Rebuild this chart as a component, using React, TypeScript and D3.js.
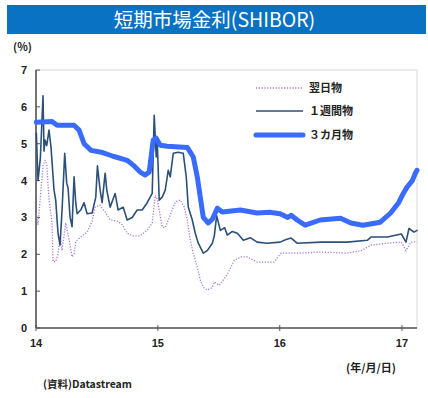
import React from "react";
import * as d3 from "d3";

// SHIBOR rates (%), sampled at turning points
const overnightDates = ["2014-01-02","2014-01-07","2014-01-22","2014-01-28","2014-02-02","2014-02-09","2014-02-18","2014-02-21","2014-03-01","2014-03-08","2014-03-14","2014-03-20","2014-03-31","2014-04-10","2014-04-19","2014-04-25","2014-04-30","2014-05-15","2014-06-03","2014-06-18","2014-06-27","2014-07-12","2014-07-27","2014-08-11","2014-09-01","2014-09-16","2014-10-01","2014-10-19","2014-11-09","2014-11-30","2014-12-15","2014-12-24","2014-12-30","2015-01-05","2015-01-14","2015-01-23","2015-02-01","2015-02-13","2015-02-22","2015-03-09","2015-03-21","2015-03-30","2015-04-08","2015-04-17","2015-04-29","2015-05-08","2015-05-17","2015-05-29","2015-06-13","2015-06-19","2015-07-04","2015-07-28","2015-08-18","2015-09-08","2015-09-25","2015-10-25","2015-12-15","2016-01-05","2016-02-22","2016-05-04","2016-07-21","2016-09-01","2016-10-01","2016-11-18","2016-12-30","2017-01-13","2017-01-28","2017-02-15"];
const overnightValues = [3.1,2.8,4.4,4.55,4.45,3.5,2.85,1.8,1.8,2.0,2.47,2.1,2.85,2.4,1.93,2.0,2.35,2.47,2.6,2.9,3.28,3.33,3.15,2.93,2.9,2.8,2.57,2.5,2.5,2.65,2.85,3.6,3.5,3.2,2.74,2.72,2.93,3.2,3.42,3.47,3.28,2.93,2.38,2.03,1.65,1.3,1.1,1.03,1.1,1.25,1.16,1.45,1.84,1.93,1.93,1.79,1.79,2.03,2.03,2.06,2.03,2.1,2.25,2.3,2.33,2.1,2.33,2.33];

const weekDates = ["2014-01-02","2014-01-07","2014-01-14","2014-01-22","2014-01-25","2014-01-28","2014-02-02","2014-02-09","2014-02-15","2014-02-24","2014-03-01","2014-03-08","2014-03-14","2014-03-20","2014-03-28","2014-04-03","2014-04-07","2014-04-13","2014-04-19","2014-04-25","2014-04-30","2014-05-04","2014-05-15","2014-05-25","2014-06-03","2014-06-18","2014-06-29","2014-07-04","2014-07-12","2014-07-18","2014-07-27","2014-08-01","2014-08-11","2014-08-26","2014-09-04","2014-09-19","2014-10-01","2014-10-16","2014-10-31","2014-11-15","2014-11-30","2014-12-15","2014-12-21","2014-12-27","2014-12-30","2015-01-05","2015-01-14","2015-01-23","2015-02-01","2015-02-07","2015-02-16","2015-03-03","2015-03-18","2015-03-27","2015-04-02","2015-04-14","2015-04-23","2015-05-02","2015-05-17","2015-05-29","2015-06-13","2015-06-19","2015-06-26","2015-07-07","2015-07-20","2015-07-28","2015-08-12","2015-08-27","2015-09-14","2015-10-05","2015-10-25","2015-11-24","2016-01-02","2016-01-20","2016-02-04","2016-02-22","2016-05-04","2016-07-21","2016-09-19","2016-10-01","2016-11-18","2016-12-30","2017-01-13","2017-01-22","2017-02-06","2017-02-15"];
const weekValues = [5.28,4.0,4.6,6.3,4.8,5.1,4.95,5.37,4.9,3.74,3.47,2.57,2.25,3.2,4.74,3.93,3.8,3.0,2.75,4.1,3.4,3.1,3.2,3.4,3.1,3.12,3.55,4.4,3.74,3.4,4.2,3.74,3.28,3.65,3.2,3.28,2.93,3.0,3.2,3.2,3.4,3.65,5.77,4.64,5.1,3.47,3.55,3.74,4.28,4.1,4.74,4.77,4.74,4.1,3.28,2.93,2.57,2.3,2.03,2.1,2.3,2.5,3.05,2.65,2.72,2.52,2.62,2.57,2.38,2.45,2.33,2.3,2.33,2.4,2.44,2.3,2.33,2.33,2.38,2.47,2.47,2.55,2.33,2.7,2.6,2.65];

const threeMonthDates = ["2014-01-02","2014-02-18","2014-03-05","2014-04-25","2014-05-10","2014-05-25","2014-06-15","2014-07-15","2014-08-20","2014-10-01","2014-10-19","2014-11-09","2014-11-24","2014-12-06","2014-12-18","2014-12-27","2015-01-08","2015-01-29","2015-03-30","2015-04-17","2015-04-29","2015-05-08","2015-05-17","2015-06-01","2015-06-13","2015-06-28","2015-07-13","2015-09-05","2015-10-25","2015-12-01","2016-01-02","2016-01-25","2016-02-04","2016-02-22","2016-03-17","2016-05-01","2016-07-01","2016-08-01","2016-09-06","2016-10-28","2016-11-28","2016-12-22","2017-01-05","2017-01-16","2017-02-01","2017-02-10","2017-02-15"];
const threeMonthValues = [5.58,5.6,5.5,5.5,5.37,5.0,4.82,4.77,4.66,4.55,4.42,4.23,4.15,4.23,5.1,5.15,4.96,4.93,4.9,4.64,4.1,3.55,3.0,2.85,2.95,3.25,3.15,3.2,3.12,3.14,3.1,3.0,3.06,2.93,2.79,2.93,2.98,2.85,2.79,2.87,3.12,3.4,3.65,3.82,4.0,4.2,4.28];

const yTicks = [0, 1, 2, 3, 4, 5, 6, 7];
const xTickYears = ["2014-01-01", "2015-01-01", "2016-01-01", "2017-01-01"];
const xTickLabels = ["14", "15", "16", "17"];
const legendLabels = ["翌日物", "１週間物", "３カ月物"];

const parse = d3.timeParse("%Y-%m-%d");

type Pt = { d: Date; v: number };
const zip = (ds: string[], vs: number[]): Pt[] =>
  ds.map((s, i) => ({ d: parse(s) as Date, v: vs[i] }));

const overnight = zip(overnightDates, overnightValues);
const week = zip(weekDates, weekValues);
const threeMonth = zip(threeMonthDates, threeMonthValues);

const W = 428;
const H = 398;
const left = 36;
const right = 417;
const top = 70;
const bottom = 328;

const x = d3
  .scaleTime()
  .domain([parse("2014-01-01") as Date, parse("2017-02-15") as Date])
  .range([left, right]);
const y = d3.scaleLinear().domain([0, 7]).range([bottom, top]);

const line = d3
  .line<Pt>()
  .x((p) => x(p.d))
  .y((p) => y(p.v));

const styles = [
  { stroke: "#a27ad6", width: 1.3, dash: "1.2 1.6" },
  { stroke: "#2c5079", width: 1.6, dash: undefined },
  { stroke: "#3a6bff", width: 5, dash: undefined },
];

const series = [overnight, week, threeMonth];

const labelFont = "'Liberation Sans', Arial, sans-serif";
const jpFont = "'Noto Sans CJK JP', sans-serif";

export default function App() {
  return (
    <svg
      width={W}
      height={H}
      style={{ position: "absolute", left: 0, top: 0, background: "#fff" }}
    >
      {/* title bar */}
      <rect x={7} y={5} width={419} height={29} fill="#0a72c2" />
      <text
        x={214.5}
        y={27}
        textAnchor="middle"
        fill="#fff"
        fontFamily={jpFont}
        fontSize={19.5}
      >
        短期市場金利(SHIBOR)
      </text>

      <text x={13} y={51} fontFamily={jpFont} fontSize={11} fontWeight={700} fill="#222">
        (%)
      </text>

      {/* plot frame */}
      <rect x={left} y={top} width={right - left} height={bottom - top} fill="#fff" stroke="#d8d8d8" strokeWidth={1} />
      <line x1={left} x2={left} y1={top} y2={bottom} stroke="#555" strokeWidth={1.6} />
      <line x1={left} x2={right} y1={bottom} y2={bottom} stroke="#555" strokeWidth={1.6} />

      {yTicks.map((t) => (
        <g key={"y" + t}>
          <line x1={left} x2={left + 4} y1={y(t)} y2={y(t)} stroke="#555" strokeWidth={1} />
          <text
            x={27}
            y={y(t) + 4}
            textAnchor="end"
            fontFamily={labelFont}
            fontSize={11}
            fontWeight={700}
            fill="#222"
          >
            {t}
          </text>
        </g>
      ))}

      {xTickYears.map((s, i) => {
        const px = x(parse(s) as Date);
        return (
          <g key={s}>
            <line x1={px} x2={px} y1={bottom - 3} y2={bottom + 3} stroke="#555" strokeWidth={1} />
            <text
              x={px}
              y={347}
              textAnchor="middle"
              fontFamily={labelFont}
              fontSize={11}
              fontWeight={700}
              fill="#222"
            >
              {xTickLabels[i]}
            </text>
          </g>
        );
      })}

      {/* series */}
      <g>
        {series.map((data, i) => (
          <path
            key={i}
            d={line(data) || ""}
            fill="none"
            stroke={styles[i].stroke}
            strokeWidth={styles[i].width}
            strokeDasharray={styles[i].dash}
            strokeLinejoin="round"
            strokeLinecap={i === 0 ? "butt" : "round"}
          />
        ))}
      </g>

      {/* legend */}
      {legendLabels.map((lab, i) => {
        const ly = [88, 111, 135][i];
        return (
          <g key={lab}>
            <line
              x1={256}
              x2={303}
              y1={ly}
              y2={ly}
              stroke={styles[i].stroke}
              strokeWidth={styles[i].width}
              strokeDasharray={styles[i].dash}
              strokeLinecap={i === 2 ? "round" : "butt"}
            />
            <text x={309} y={ly + 4} fontFamily={jpFont} fontSize={11} fontWeight={700} fill="#222">
              {lab}
            </text>
          </g>
        );
      })}

      <text x={346} y={372} fontFamily={jpFont} fontSize={11} fontWeight={700} fill="#222">
        (年/月/日)
      </text>
      <text x={43} y={388} fontFamily={jpFont} fontSize={10.5} fill="#222" fontWeight={700}>
        (資料)Datastream
      </text>
    </svg>
  );
}
